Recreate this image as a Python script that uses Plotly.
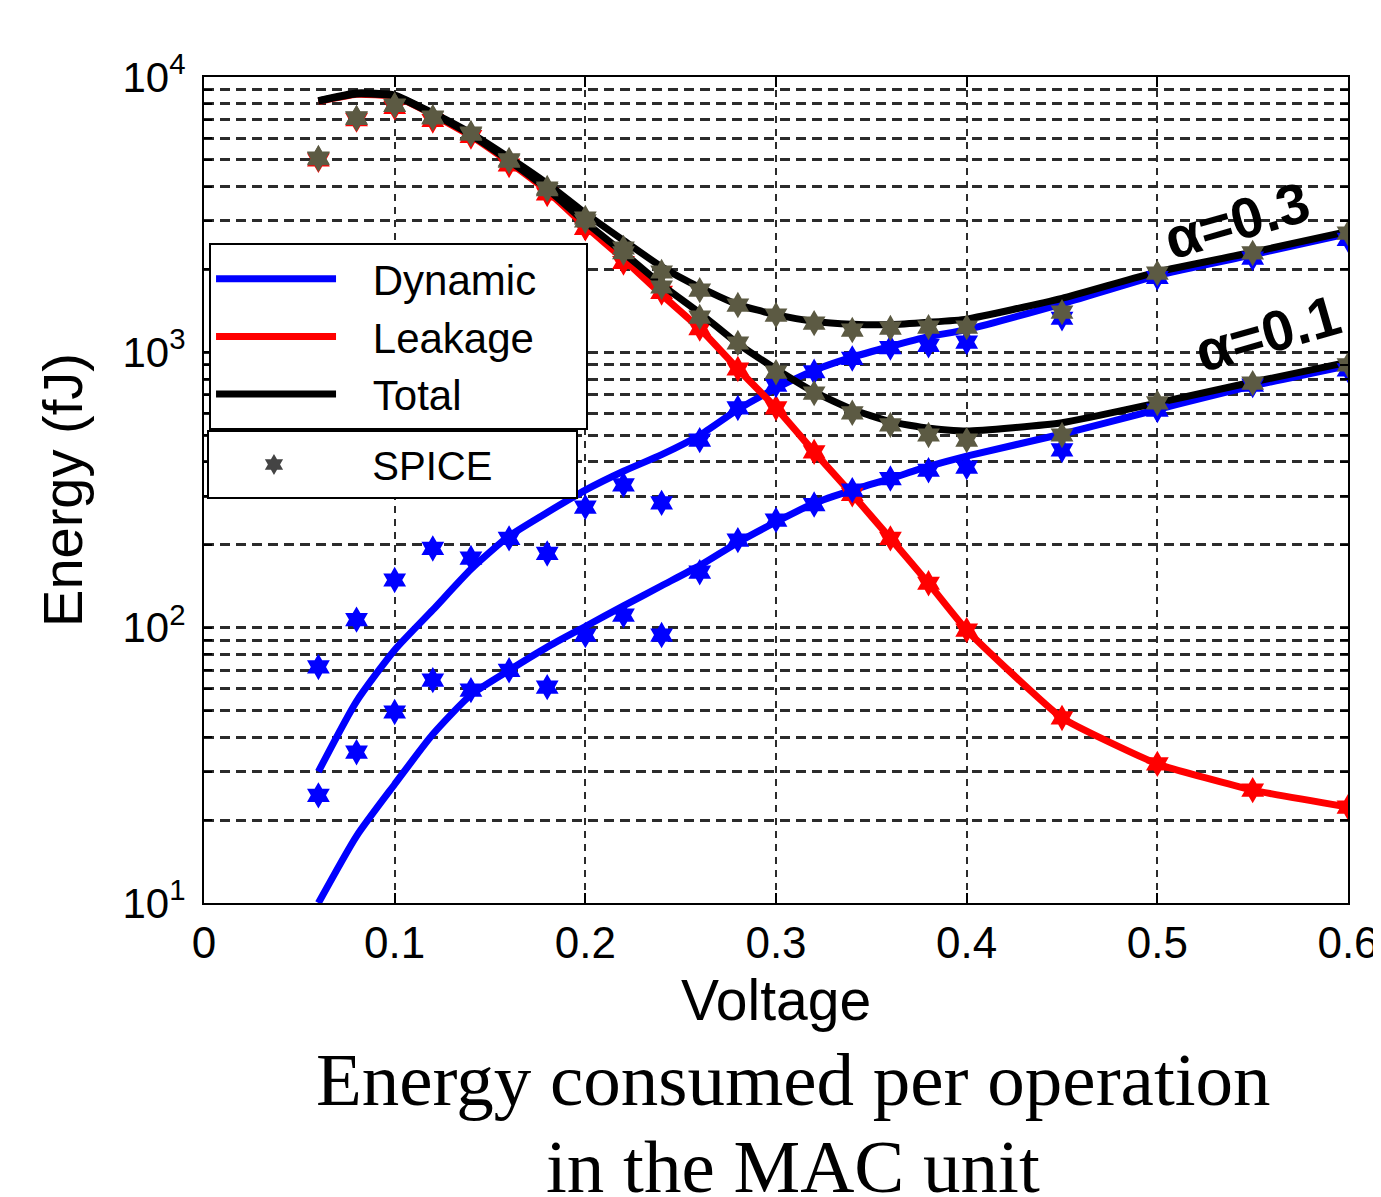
import plotly.graph_objects as go

# ---------------- data ----------------
voltage = [0.06, 0.08, 0.10, 0.12, 0.14, 0.16, 0.18, 0.20, 0.22, 0.24, 0.26,
           0.28, 0.30, 0.32, 0.34, 0.36, 0.38, 0.40, 0.45, 0.50, 0.55, 0.60]

leakage_model = [8150, 8650, 8500, 7300, 6100, 4900, 3850, 2870, 2180, 1620, 1220,
                 870, 628, 435, 305, 211, 145, 98, 47, 32, 25.7, 22.3]

dyn_a03_model = [30, 54, 83, 116, 163, 215, 262, 316, 370, 425, 500,
                 620, 740, 860, 960, 1050, 1140, 1210, 1500, 1900, 2260, 2700]
dyn_a01_model = [10, 17.5, 27, 41, 57, 70, 85, 101, 120, 142, 168,
                 204, 242, 283, 316, 348, 385, 420, 505, 620, 755, 895]

tot_a03_model = [8200, 8750, 8600, 7400, 6250, 5100, 4100, 3200, 2550, 2045, 1720,
                 1490, 1370, 1295, 1265, 1260, 1285, 1320, 1570, 1960, 2310, 2750]
tot_a01_model = [8180, 8680, 8530, 7340, 6160, 4970, 3920, 2970, 2300, 1760, 1390,
                 1075, 870, 718, 620, 560, 530, 518, 555, 655, 780, 920]

spice_tot_a03 = [5080, 7100, 7910, 7150, 6260, 5000, 3950, 3075, 2393, 1958, 1683,
                 1485, 1366, 1277, 1205, 1225, 1235, 1235, 1400, 1940, 2296, 2710]
spice_tot_a01 = [5050, 7080, 7880, 7100, 6200, 4950, 3900, 3000, 2300, 1727, 1343,
                 1081, 847, 711, 603, 545, 501, 480, 501, 655, 773, 900]
spice_dyn_a03 = [72, 107, 149, 194, 179, 211, 186, 274, 330, 284, 480,
                 628, 760, 850, 950, 1040, 1060, 1090, 1330, 1870, 2200, 2570]
spice_dyn_a01 = [24.6, 35.3, 49.4, 64.5, 59.3, 70, 60.8, 94, 111, 94, 159,
                 208, 246, 280, 316, 348, 373, 383, 442, 617, 760, 863]
spice_leak = [5000, 7000, 7760, 6950, 6080, 4790, 3760, 2820, 2120, 1650, 1220,
              870, 628, 435, 305, 211, 145, 98, 47, 32, 25.7, 22.3]

x_ticks = [0, 0.1, 0.2, 0.3, 0.4, 0.5, 0.6]
x_tick_text = ["0", "0.1", "0.2", "0.3", "0.4", "0.5", "0.6"]
y_major = [10, 100, 1000, 10000]
y_major_text = ["10<sup>1</sup>", "10<sup>2</sup>", "10<sup>3</sup>", "10<sup>4</sup>"]
y_minor = [20, 30, 40, 50, 60, 70, 80, 90,
           200, 300, 400, 500, 600, 700, 800, 900,
           2000, 3000, 4000, 5000, 6000, 7000, 8000, 9000]

# ---------------- styling ----------------
BLUE = "#0000ff"
RED = "#ff0000"
BLACK = "#000000"
OLIVE = "#5c5a43"
SANS = "Liberation Sans, Arial, sans-serif"
SERIF = "Liberation Serif, Times New Roman, serif"
LW = 7
NB = "\u00a0"
PAD = NB * 2 + "\u2009"

fig = go.Figure()

# model lines
fig.add_trace(go.Scatter(x=voltage, y=dyn_a03_model, mode="lines", name=PAD + "Dynamic",
                         line=dict(color=BLUE, width=LW, shape="spline", smoothing=0.6),
                         legend="legend", legendgroup="dyn"))
fig.add_trace(go.Scatter(x=voltage, y=dyn_a01_model, mode="lines", showlegend=False,
                         line=dict(color=BLUE, width=LW, shape="spline", smoothing=0.6),
                         legendgroup="dyn"))
fig.add_trace(go.Scatter(x=voltage, y=leakage_model, mode="lines",
                         name=PAD + "Leakage" + NB * 4,
                         line=dict(color=RED, width=LW, shape="spline", smoothing=0.4),
                         legend="legend"))
fig.add_trace(go.Scatter(x=voltage, y=spice_leak, mode="markers", showlegend=False,
                         marker=dict(color=RED, symbol="hexagram", size=20, line=dict(width=0))))
fig.add_trace(go.Scatter(x=voltage, y=tot_a03_model, mode="lines", name=PAD + "Total",
                         line=dict(color=BLACK, width=LW, shape="spline", smoothing=0.5),
                         legend="legend", legendgroup="tot"))
fig.add_trace(go.Scatter(x=voltage, y=tot_a01_model, mode="lines", showlegend=False,
                         line=dict(color=BLACK, width=LW, shape="spline", smoothing=0.5),
                         legendgroup="tot"))

# SPICE markers
mk = dict(symbol="hexagram", size=20, line=dict(width=0))
fig.add_trace(go.Scatter(x=voltage, y=spice_dyn_a03, mode="markers", showlegend=False,
                         marker=dict(color=BLUE, **mk)))
fig.add_trace(go.Scatter(x=voltage, y=spice_dyn_a01, mode="markers", showlegend=False,
                         marker=dict(color=BLUE, **mk)))
fig.add_trace(go.Scatter(x=voltage, y=spice_tot_a03, mode="markers", showlegend=False,
                         marker=dict(color=OLIVE, **mk)))
fig.add_trace(go.Scatter(x=voltage, y=spice_tot_a01, mode="markers", showlegend=False,
                         marker=dict(color=OLIVE, **mk)))

# legend-only SPICE entry
fig.add_trace(go.Scatter(x=[None], y=[None], mode="markers",
                         name=NB * 3 + "SPICE" + NB * 7,
                         marker=dict(symbol="hexagram", size=16, color="#444444"),
                         legend="legend2"))

hgrid = dict(showgrid=True, gridcolor="#2b2b2b", gridwidth=2.5, griddash="10px,6px")

fig.update_xaxes(range=[0, 0.6], tickvals=x_ticks, ticktext=x_tick_text,
                 ticks="inside", ticklen=10, tickwidth=2, tickcolor=BLACK,
                 showline=True, linecolor=BLACK, linewidth=2, mirror="ticks",
                 tickfont=dict(family=SANS, size=44, color=BLACK),
                 title=dict(text="Voltage", font=dict(family=SANS, size=57, color=BLACK),
                            standoff=14),
                 automargin=False, zeroline=False,
                 showgrid=True, gridcolor="#2b2b2b", gridwidth=2, griddash="7px,6px")
fig.update_yaxes(type="log", range=[1, 4], tickvals=y_major, ticktext=y_major_text,
                 ticks="inside", ticklen=8, tickwidth=2, tickcolor=BLACK,
                 showline=True, linecolor=BLACK, linewidth=2, mirror="ticks",
                 tickfont=dict(family=SANS, size=42, color=BLACK),
                 ticklabelstandoff=8,
                 title=dict(text="Energy (fJ)", font=dict(family=SANS, size=56, color=BLACK),
                            standoff=22),
                 minor=dict(tickmode="array", tickvals=y_minor, ticks="inside", ticklen=8,
                            tickwidth=2, tickcolor=BLACK, showgrid=True,
                            gridcolor="#2b2b2b", gridwidth=2.5, griddash="10px,6px"),
                 automargin=False, zeroline=False, **hgrid)

# page body has an 8px margin; size the figure so the plot area lands where the reference has it
fig.update_layout(
    width=1373, height=1189,
    margin=dict(l=196, r=33, t=69, b=294),
    paper_bgcolor="white", plot_bgcolor="white",
    legend=dict(x=0.0044, y=0.799, xanchor="left", yanchor="top",
                bgcolor="white", bordercolor=BLACK, borderwidth=2,
                font=dict(family=SANS, size=42, color=BLACK),
                itemwidth=120, tracegroupgap=0),
    legend2=dict(x=0.0026, y=0.5726, xanchor="left", yanchor="top",
                 bgcolor="white", bordercolor=BLACK, borderwidth=2,
                 font=dict(family=SANS, size=40, color=BLACK),
                 itemwidth=120),
    showlegend=True,
)

# alpha labels
fig.add_annotation(x=0.542, y=3.481, xref="x", yref="y", text="<b>α=0.3</b>",
                   showarrow=False, textangle=-16,
                   font=dict(family=SANS, size=57, color=BLACK))
fig.add_annotation(x=0.558, y=3.07, xref="x", yref="y", text="<b>α=0.1</b>",
                   showarrow=False, textangle=-16,
                   font=dict(family=SANS, size=57, color=BLACK))

# caption
fig.add_annotation(x=0.515, y=-0.214, xref="paper", yref="paper",
                   text="Energy consumed per operation", showarrow=False,
                   yanchor="middle", font=dict(family=SERIF, size=75, color=BLACK))
fig.add_annotation(x=0.515, y=-0.3187, xref="paper", yref="paper",
                   text="in the MAC unit", showarrow=False,
                   yanchor="middle", font=dict(family=SERIF, size=75, color=BLACK))

fig.write_html("out.html")
